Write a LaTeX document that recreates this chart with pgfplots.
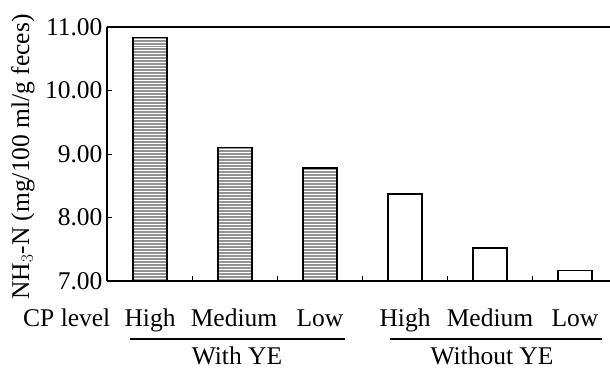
\documentclass[border=0pt]{standalone}
\usepackage{pgfplots}
\pgfplotsset{compat=1.18}
\usepackage{fontspec}
\setmainfont{Liberation Serif}
\usetikzlibrary{patterns}
\begin{document}
\begin{tikzpicture}
\useasboundingbox (0,0) rectangle (610bp,368bp);
\begin{axis}[
  at={(107bp,87bp)}, anchor=south west,
  scale only axis, width=503bp, height=254bp,
  xmin=-0.506, xmax=5.412, ymin=7, ymax=11,
  axis x line*=bottom, axis y line*=left,
  axis line style={line width=1.2pt},
  xtick={0.5,1.5,2.5,3.5,4.5}, xticklabels={},
  ytick={7,8,9,10,11},
  yticklabel style={/pgf/number format/fixed, /pgf/number format/fixed zerofill, /pgf/number format/precision=2, /pgf/number format/assume math mode=true, xshift=-1bp},
  yticklabel={\pgfmathprintnumber{\tick}},
  tick style={black, line width=0.8pt},
  major tick length=5bp,
  tick align=inside,
  font=\fontsize{25.5bp}{29bp}\selectfont,
  clip=false,
]
\addplot[ybar, bar width=34bp, draw=black, line width=1.3pt, fill=gray!85,
  postaction={pattern=horizontal lines, pattern color=white}]
  coordinates {(0,10.83) (1,9.10) (2,8.78)};
\addplot[ybar, bar width=34bp, draw=black, line width=1.1pt, fill=white]
  coordinates {(3,8.37) (4,7.52) (5,7.16)};
\draw[line width=1.2pt] (rel axis cs:0,1) -- (rel axis cs:1,1);
\end{axis}
\begin{scope}[font=\fontsize{25.5bp}{29bp}\selectfont]
\node[rotate=90, anchor=center] at (23bp,211bp) {NH$_3$-N (mg/100 ml/g feces)};
\node[anchor=base west, inner sep=0pt] at (23bp,41bp) {CP level};
\node[anchor=base] at (150bp,41bp) {High};
\node[anchor=base] at (234bp,41bp) {Medium};
\node[anchor=base] at (320bp,41bp) {Low};
\node[anchor=base] at (405bp,41bp) {High};
\node[anchor=base] at (490bp,41bp) {Medium};
\node[anchor=base] at (575bp,41bp) {Low};
\draw[line width=1.2pt] (130bp,29bp) -- (345bp,29bp);
\draw[line width=1.2pt] (390bp,29bp) -- (602bp,29bp);
\node[anchor=base, inner sep=0pt] at (237bp,4bp) {With YE};
\node[anchor=base, inner sep=0pt] at (492bp,4bp) {Without YE};
\end{scope}
\end{tikzpicture}
\end{document}
